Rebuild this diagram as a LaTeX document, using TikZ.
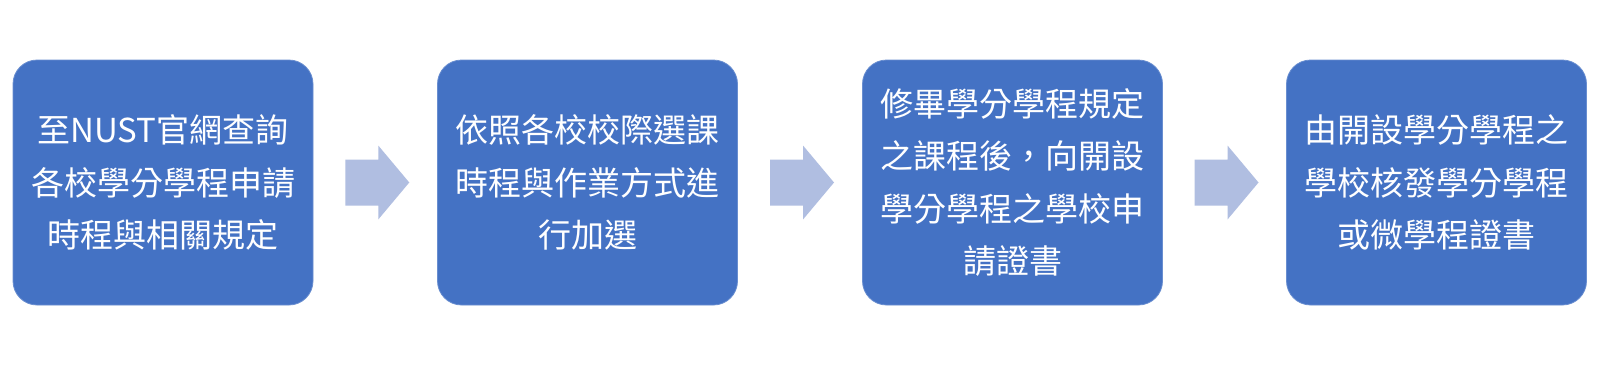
\documentclass[tikz,border=0pt]{standalone}
\usepackage{fontspec}
\newfontfamily\cjk{Noto Sans CJK TC}
\usetikzlibrary{calc}
\definecolor{boxblue}{HTML}{4472C4}
\definecolor{arrowblue}{HTML}{B0BEE1}
\tikzset{
  stepbox/.style={fill=boxblue, draw=boxblue!80!white, line width=0.8pt, rounded corners=24pt,
    minimum width=300pt, minimum height=245pt, inner sep=0pt,
    text=white, align=center, font=\cjk\fontsize{33}{52.5}\selectfont},
  flowarrow/.style={fill=arrowblue, draw=none}
}
\begin{document}
\begin{tikzpicture}[x=1pt,y=1pt]
\useasboundingbox (0,0) rectangle (1600,-365);
\fill[white] (0,0) rectangle (1600,-365);
\node[stepbox] (b1) at (163,-182.5) {至NUST官網查詢\\各校學分學程申請\\時程與相關規定};
\node[stepbox] (b2) at (587.5,-182.5) {依照各校校際選課\\時程與作業方式進\\行加選};
\node[stepbox] (b3) at (1012.5,-182.5) {修畢學分學程規定\\之課程後，向開設\\學分學程之學校申\\請證書};
\node[stepbox] (b4) at (1436.5,-182.5) {由開設學分學程之\\學校核發學分學程\\或微學程證書};
\foreach \a/\b/\n in {b1/b2/c1,b2/b3/c2,b3/b4/c3}{
  \coordinate (\n) at ($(\a.east)!0.5!(\b.west)+(2,0)$);
  \fill[flowarrow] ($(\n)+(-32,23)$) -- ($(\n)+(1,23)$) -- ($(\n)+(1,37)$) -- ($(\n)+(32,0)$)
    -- ($(\n)+(1,-37)$) -- ($(\n)+(1,-23)$) -- ($(\n)+(-32,-23)$) -- cycle;
}
\end{tikzpicture}
\end{document}
